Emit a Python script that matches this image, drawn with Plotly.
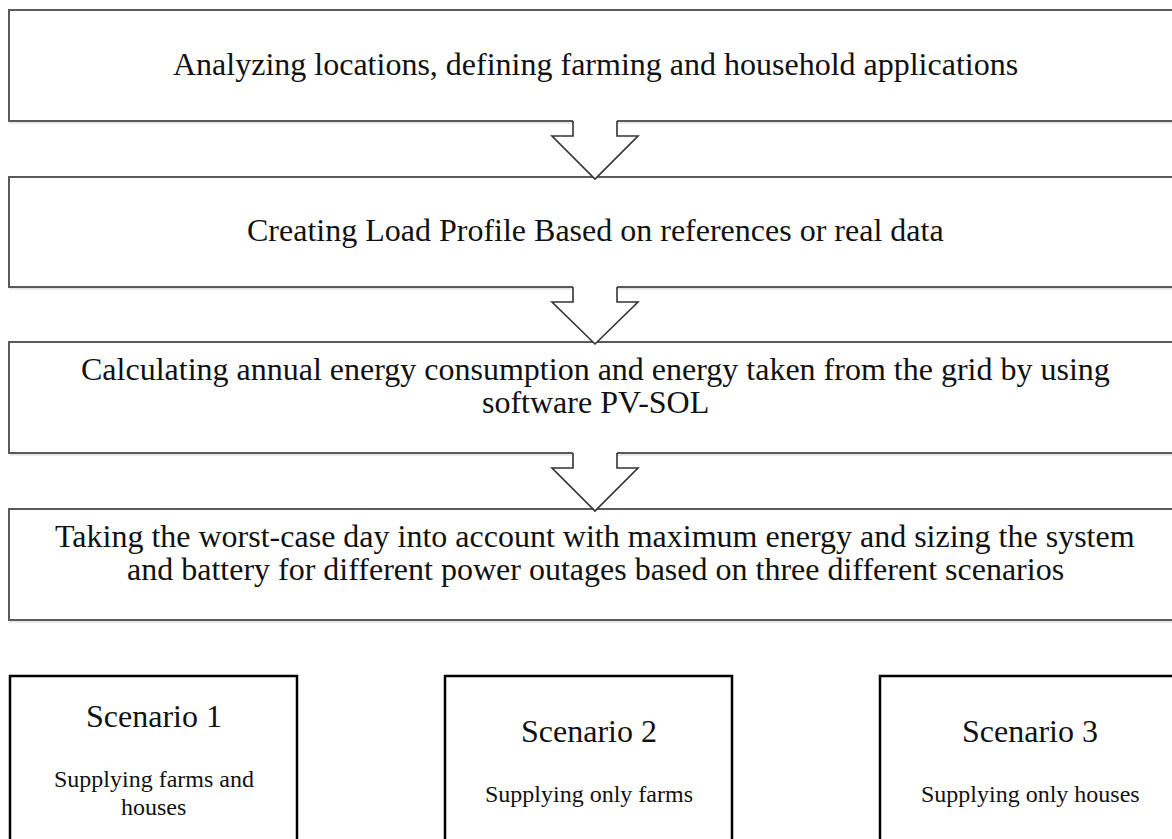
import plotly.graph_objects as go

# flow steps, one list of text lines per box
step_lines = [
    ["Analyzing locations, defining farming and household applications"],
    ["Creating Load Profile Based on references or real data"],
    ["Calculating annual energy consumption and energy taken from the grid by using",
     "software PV-SOL"],
    ["Taking the worst-case day into account with maximum energy and sizing the system",
     "and battery for different power outages based on three different scenarios"],
]
scenario_titles = ["Scenario 1", "Scenario 2", "Scenario 3"]
scenario_lines = [
    ["Supplying farms and", "houses"],
    ["Supplying only farms"],
    ["Supplying only houses"],
]

W, H = 1172, 839
FONT = "Liberation Serif, Times New Roman, serif"

# box geometry (pixels, y downwards)
box_x0, box_x1 = 9, 1181
box_y = [(10, 121), (177, 287), (342, 453), (509, 620)]
line_gap = 33
scen_x = [(10, 297), (445, 732), (880, 1180)]
scen_y0, scen_y1 = 676, 900

fig = go.Figure()
shapes, annots = [], []

for (y0, y1), lines in zip(box_y, step_lines):
    # soft shadow
    shapes.append(dict(type="rect", x0=box_x0 + 1.5, x1=box_x1 + 1.5, y0=y0 + 1.5, y1=y1 + 1.5,
                       line=dict(color="rgba(0,0,0,0.10)", width=2.5), layer="below"))
    shapes.append(dict(type="rect", x0=box_x0, x1=box_x1, y0=y0, y1=y1,
                       line=dict(color="#5a5a5a", width=2), fillcolor="white"))
    yc = (y0 + y1) / 2 - (len(lines) - 1) * 10 - 2
    start = yc - (len(lines) - 1) * line_gap / 2
    for k, t in enumerate(lines):
        annots.append(dict(x=(box_x0 + box_x1) / 2, y=start + k * line_gap, text=t,
                           showarrow=False, xanchor="center", yanchor="middle",
                           font=dict(family=FONT, size=32, color="#111")))

# block arrows between the boxes
cx = 595
for i in range(len(box_y) - 1):
    top = box_y[i][1]
    nxt = box_y[i + 1][0]
    wing = top + 15
    tip = nxt + 2
    poly = (f"M{cx-22},{top-2} L{cx-22},{wing} L{cx-43},{wing} L{cx},{tip} "
            f"L{cx+43},{wing} L{cx+22},{wing} L{cx+22},{top-2} Z")
    shapes.append(dict(type="path", path=poly, fillcolor="white", line=dict(width=0)))
    outline = (f"M{cx-22},{top} L{cx-22},{wing} L{cx-43},{wing} L{cx},{tip} "
               f"L{cx+43},{wing} L{cx+22},{wing} L{cx+22},{top}")
    shapes.append(dict(type="path", path=outline, line=dict(color="#333", width=1.6)))

# scenario boxes
title_y = [716, 731, 731]
for (x0, x1), ttl, lines, ty in zip(scen_x, scenario_titles, scenario_lines, title_y):
    shapes.append(dict(type="rect", x0=x0, x1=x1, y0=scen_y0, y1=scen_y1,
                       line=dict(color="#000", width=2.5)))
    xc = (x0 + x1) / 2
    annots.append(dict(x=xc, y=ty, text=ttl, showarrow=False, xanchor="center",
                       yanchor="middle", font=dict(family=FONT, size=32, color="#111")))
    for k, t in enumerate(lines):
        annots.append(dict(x=xc, y=ty + 63 + k * 28, text=t, showarrow=False,
                           xanchor="center", yanchor="middle",
                           font=dict(family=FONT, size=24, color="#111")))

fig.update_layout(
    shapes=shapes, annotations=annots,
    width=W, height=H, margin=dict(l=0, r=0, t=0, b=0),
    plot_bgcolor="white", paper_bgcolor="white", showlegend=False,
    xaxis=dict(range=[0, W], visible=False, fixedrange=True),
    yaxis=dict(range=[H, 0], visible=False, fixedrange=True),
)
fig.write_html("out.html", config={"displayModeBar": False},
               post_script="document.body.style.margin='0';document.body.style.overflow='hidden';")
